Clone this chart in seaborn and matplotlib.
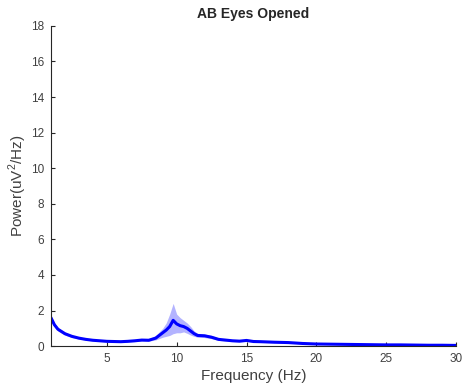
import numpy as np
import pandas as pd
import seaborn as sns
import matplotlib
matplotlib.use("Agg")
import matplotlib.pyplot as plt

# spectrum values (Hz, uV^2/Hz)
freq = [1, 1.25, 1.5, 2, 2.5, 3, 3.5, 4, 4.5, 5, 5.5, 6, 6.5, 7, 7.5, 8, 8.5,
        9, 9.25, 9.5, 9.75, 10, 10.25, 10.5, 10.75, 11, 11.25, 11.5, 12, 12.5,
        13, 13.5, 14, 14.5, 15, 15.5, 16, 17, 18, 19, 20, 21, 22, 23, 24, 25,
        26, 27, 28, 29, 30]
power_mean = [1.6, 1.2, 0.95, 0.7, 0.55, 0.45, 0.38, 0.33, 0.3, 0.27, 0.26,
              0.25, 0.27, 0.3, 0.34, 0.33, 0.45, 0.75, 0.9, 1.1, 1.45, 1.25,
              1.15, 1.1, 1.0, 0.85, 0.7, 0.6, 0.58, 0.5, 0.38, 0.34, 0.3, 0.28,
              0.32, 0.26, 0.25, 0.22, 0.2, 0.15, 0.12, 0.11, 0.1, 0.09, 0.08,
              0.07, 0.07, 0.06, 0.05, 0.05, 0.04]
power_upper = [1.7, 1.3, 1.05, 0.78, 0.62, 0.5, 0.42, 0.37, 0.33, 0.3, 0.29,
               0.28, 0.3, 0.34, 0.38, 0.4, 0.6, 1.0, 1.3, 1.8, 2.4, 1.8, 1.6,
               1.45, 1.3, 1.1, 0.85, 0.72, 0.68, 0.6, 0.45, 0.4, 0.35, 0.33,
               0.36, 0.3, 0.29, 0.25, 0.23, 0.18, 0.14, 0.13, 0.12, 0.11, 0.1,
               0.09, 0.08, 0.07, 0.06, 0.06, 0.05]
power_lower = [1.5, 1.1, 0.85, 0.62, 0.48, 0.4, 0.34, 0.29, 0.27, 0.24, 0.23,
               0.22, 0.24, 0.26, 0.3, 0.28, 0.35, 0.5, 0.55, 0.6, 0.7, 0.75,
               0.75, 0.8, 0.72, 0.62, 0.55, 0.5, 0.48, 0.42, 0.32, 0.29, 0.26,
               0.24, 0.28, 0.22, 0.21, 0.19, 0.17, 0.13, 0.1, 0.09, 0.08, 0.07,
               0.06, 0.06, 0.05, 0.05, 0.04, 0.04, 0.03]

df = pd.DataFrame({"freq": freq, "power": power_mean})

sns.set_theme(style="ticks")
plt.rcParams["font.family"] = ["Liberation Sans", "DejaVu Sans"]

fig = plt.figure(figsize=(4.63, 3.92), dpi=100)
ax = fig.add_axes([0.110, 0.117, 0.875, 0.817])

ax.fill_between(freq, power_lower, power_upper, color=(0.7, 0.7, 1.0),
                linewidth=0, zorder=1)
sns.lineplot(data=df, x="freq", y="power", color=(0, 0, 1), linewidth=2.2,
             ax=ax, zorder=2)

ax.set_xlim(1, 30)
ax.set_ylim(0, 18)
ax.set_xticks([5, 10, 15, 20, 25, 30])
ax.set_yticks(range(0, 19, 2))
ax.tick_params(direction="in", length=3, width=0.8, labelsize=8.5, pad=5,
               colors="#262626", labelcolor="#404040")
sns.despine(ax=ax)
for s in ["left", "bottom"]:
    ax.spines[s].set_color("#262626")
    ax.spines[s].set_linewidth(0.8)

ax.set_xlabel("Frequency (Hz)", fontsize=11, color="#404040", labelpad=3)
ax.set_ylabel("Power(uV$^{\\mathregular{2}}$/Hz)", fontsize=11,
              color="#404040")
ax.yaxis.set_label_coords(-0.053, 0.5)
ax.set_title("AB Eyes Opened", fontsize=10, fontweight="bold", pad=6)

fig.savefig("out.png", dpi=100)
